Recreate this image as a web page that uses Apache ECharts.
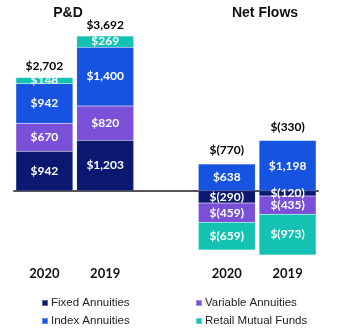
<!DOCTYPE html>
<html><head><meta charset="utf-8">
<script src="https://cdn.jsdelivr.net/npm/echarts@6/dist/echarts.min.js"></script>
<style>html,body{margin:0;padding:0;background:#fff}#c{width:337px;height:330px}</style>
</head><body><div id="c"></div>
<script>
const categories = ['2020', '2019', '', '2020', '2019'];
const seriesNames = ['Fixed Annuities', 'Variable Annuities', 'Index Annuities', 'Retail Mutual Funds'];
const fixedAnnuities = [942, 1203, null, -290, -120];
const variableAnnuities = [670, 820, null, -459, -435];
const indexAnnuities = [942, 1400, null, 638, 1198];
const retailMutualFunds = [148, 269, null, -659, -973];
const totals = [2702, 3692, null, -770, -330];
const panelTitles = ['P&D', 'Net Flows'];
const colors = ['#0b1870', '#7a50d8', '#1553e0', '#14c2b4'];

function fmt(v) {
  return v < 0 ? '$(' + Math.abs(v).toLocaleString('en-US') + ')' : '$' + v.toLocaleString('en-US');
}
const all = [fixedAnnuities, variableAnnuities, indexAnnuities, retailMutualFunds];
const posTops = categories.map((c, i) => {
  if (totals[i] == null) return null;
  let s = 0; all.forEach(a => { if (a[i] > 0) s += a[i]; }); return s;
});

const chart = echarts.init(document.getElementById('c'));
const barSeries = all.map((arr, k) => ({
  name: seriesNames[k], type: 'bar', stack: 'a', barWidth: 57, barGap: '-100%',
  xAxisIndex: 0,
  itemStyle: { color: colors[k], borderColor: 'rgba(255,255,255,0.35)', borderWidth: 0.5, borderType: 'dotted' },
  label: { show: true, position: 'inside', color: '#fff', fontFamily: 'Lato', fontWeight: 'bold', fontSize: 12,
    formatter: p => fmt(p.value) },
  data: arr
}));
barSeries.push({
  name: 'total', type: 'bar', barWidth: 57, barGap: '-100%', xAxisIndex: 0, silent: true, z: 1,
  itemStyle: { color: 'rgba(0,0,0,0)' },
  label: { show: true, position: 'top', distance: 5, color: '#000', fontFamily: 'Lato', fontWeight: 'bold', fontSize: 12,
    formatter: p => fmt(totals[p.dataIndex]) },
  data: posTops.map((v, i) => v == null ? null : v + (totals[i] < 0 ? 60 : 0))
});
const legendCommon = { orient: 'vertical', top: 297, padding: 0, itemWidth: 6, itemHeight: 6, itemGap: 6, height: 34, icon: 'rect',
  textStyle: { fontFamily: 'Liberation Sans', fontSize: 11.5, color: '#222', padding: [0, 0, 0, -2] } };
chart.setOption({
  animation: false,
  title: [
    { text: panelTitles[0], left: 63, top: 1, textAlign: 'center', textStyle: { fontFamily: 'Liberation Sans', fontWeight: 'bold', fontSize: 14, color: '#111' } },
    { text: panelTitles[1], left: 260, top: 1, textAlign: 'center', textStyle: { fontFamily: 'Liberation Sans', fontWeight: 'bold', fontSize: 14, color: '#111' } }
  ],
  legend: [
    Object.assign({ data: [seriesNames[0], seriesNames[2]], left: 41 }, legendCommon),
    Object.assign({ data: [seriesNames[1], seriesNames[3]], left: 195 }, legendCommon)
  ],
  grid: { left: 14, right: 19, top: 23, bottom: 72, containLabel: false },
  xAxis: [
    { type: 'category', data: categories, axisLine: { onZero: true, lineStyle: { color: '#555', width: 2 } },
      axisTick: { show: false }, axisLabel: { show: false } },
    { type: 'category', data: categories, position: 'bottom', axisLine: { show: false }, axisTick: { show: false },
      axisLabel: { margin: 9, fontFamily: 'Lato', fontWeight: 'bold', fontSize: 13, color: '#111' } }
  ],
  yAxis: { type: 'value', min: -1600, max: 4000, show: false, splitLine: { show: false } },
  series: barSeries
});
</script></body></html>
